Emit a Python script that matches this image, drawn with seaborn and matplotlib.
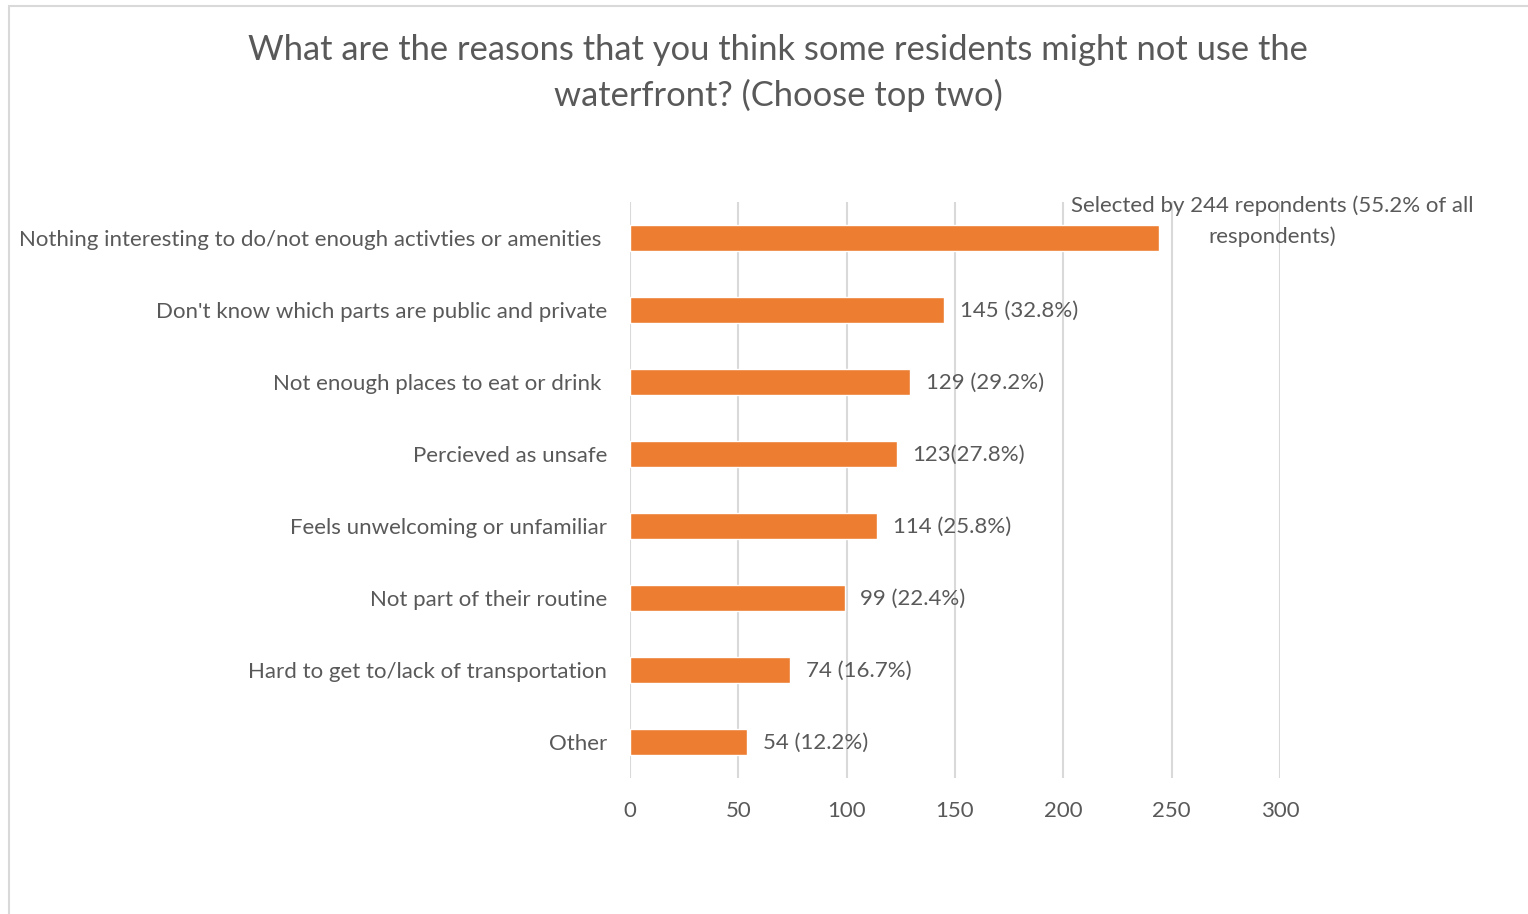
import matplotlib
matplotlib.use("Agg")
import matplotlib.pyplot as plt
import seaborn as sns
import pandas as pd
from matplotlib.patches import Rectangle

categories = [
    "Nothing interesting to do/not enough activties or amenities ",
    "Don't know which parts are public and private",
    "Not enough places to eat or drink ",
    "Percieved as unsafe",
    "Feels unwelcoming or unfamiliar",
    "Not part of their routine",
    "Hard to get to/lack of transportation",
    "Other",
]
counts = [244, 145, 129, 123, 114, 99, 74, 54]
value_labels = [
    "Selected by 244 repondents (55.2% of all\nrespondents)",
    "145 (32.8%)",
    "129 (29.2%)",
    "123(27.8%)",
    "114 (25.8%)",
    "99 (22.4%)",
    "74 (16.7%)",
    "54 (12.2%)",
]
x_ticks = [0, 50, 100, 150, 200, 250, 300]
title = "What are the reasons that you think some residents might not use the\nwaterfront? (Choose top two)"

BAR = "#ED7D31"
TEXT = "#595959"
GRID = "#D9D9D9"

sns.set_theme(style="white")
plt.rcParams["font.family"] = ["Lato", "DejaVu Sans"]

W, H = 1528, 914
fig = plt.figure(figsize=(W / 100, H / 100), dpi=100)
ax = fig.add_axes([630 / W, 1 - 778 / H, 650 / W, 576 / H])

df = pd.DataFrame({"reason": categories, "count": counts})
sns.barplot(data=df, x="count", y="reason", order=categories, color=BAR,
            saturation=1, width=0.36, ax=ax, zorder=3)

ax.set_xlim(0, 300)
ax.set_xticks(x_ticks)
ax.set_xticklabels([str(t) for t in x_ticks])
ax.xaxis.grid(True, color=GRID, linewidth=1.5, zorder=0)
ax.set_axisbelow(True)
for s in ax.spines.values():
    s.set_visible(False)
ax.set_xlabel("")
ax.set_ylabel("")
ax.tick_params(axis="x", length=0, pad=16.5, labelsize=16, labelcolor=TEXT)
ax.tick_params(axis="y", length=0, pad=16.5, labelsize=16, labelcolor=TEXT)

for i, (v, lab) in enumerate(zip(counts, value_labels)):
    if i == 0:
        ax.annotate(lab, xy=(v, i), xytext=(114, 17), textcoords="offset pixels",
                    ha="center", va="center", fontsize=16, color=TEXT,
                    linespacing=1.6)
    else:
        ax.annotate(lab, xy=(v, i), xytext=(16, -1), textcoords="offset pixels",
                    ha="left", va="center", fontsize=16, color=TEXT)

fig.text(778 / W, 1 - 73 / H, title, ha="center", va="center",
         fontsize=24.8, color=TEXT, linespacing=1.45)

fig.add_artist(Rectangle((9 / W, -0.05), 1.2, 1 - 6 / H + 0.05,
                         transform=fig.transFigure, fill=False,
                         edgecolor=GRID, linewidth=1.5))

fig.savefig("out.png", dpi=100, facecolor="white")
